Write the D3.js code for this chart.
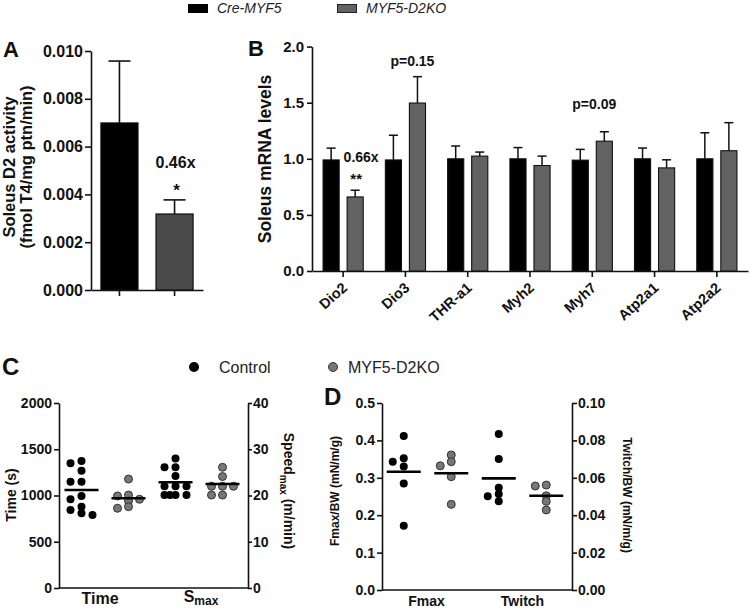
<!DOCTYPE html>
<html><head><meta charset="utf-8">
<script src="https://cdn.jsdelivr.net/npm/d3@7"></script>
<style>
body{margin:0;background:#fff;}
svg{display:block;font-family:"Liberation Sans",Arial,sans-serif;}
</style></head><body>
<svg id="chart" width="750" height="608"></svg>
<script>
// ---------- DATA ----------
const legendGroups = ["Cre-MYF5", "MYF5-D2KO"];

// Panel A
const activityMean = [0.00699, 0.00318];
const activitySem = [0.00259, 0.00059];
const activityTicks = [0, 0.002, 0.004, 0.006, 0.008, 0.010];

// Panel B
const genes = ["Dio2", "Dio3", "THR-a1", "Myh2", "Myh7", "Atp2a1", "Atp2a2"];
const creMean = [0.99, 0.99, 1.0, 1.0, 0.988, 1.0, 1.0];
const creSem = [0.105, 0.22, 0.114, 0.10, 0.096, 0.096, 0.232];
const koMean = [0.66, 1.497, 1.024, 0.94, 1.157, 0.919, 1.072];
const koSem = [0.06, 0.235, 0.036, 0.084, 0.084, 0.072, 0.25];
const mrnaTicks = [0, 0.5, 1.0, 1.5, 2.0];

// Panel C
const cGroups = ["Time", "Smax"];
const cLegend = ["Control", "MYF5-D2KO"];
const timeControl = [1348, 1373, 1268, 1149, 1149, 995, 959, 879, 843, 789, 807];
const timeKO = [1178, 1005, 995, 959, 941, 862, 879];
const smaxControl = [28.0, 26.1, 26.1, 24.2, 22.0, 22.0, 22.0, 20.1, 20.1, 20.1, 20.1];
const smaxKO = [26.1, 24.1, 22.0, 22.0, 22.0, 20.1, 20.1];
const timeMeans = [1059, 970];
const smaxMeans = [22.85, 22.5];
const timeTicks = [0, 500, 1000, 1500, 2000];
const speedTicks = [0, 10, 20, 30, 40];

// Panel D
const dGroups = ["Fmax", "Twitch"];
const fmaxControl = [0.412, 0.352, 0.343, 0.330, 0.285, 0.172];
const fmaxKO = [0.361, 0.343, 0.332, 0.303, 0.229];
const twitchControl = [0.0834, 0.0701, 0.0547, 0.0513, 0.0501, 0.0474];
const twitchKO = [0.0561, 0.0556, 0.0504, 0.0474, 0.0428];
const fmaxMeans = [0.316, 0.312];
const twitchMeans = [0.0597, 0.0504];
const fmaxTicks = [0, 0.1, 0.2, 0.3, 0.4, 0.5];
const twitchTicks = [0, 0.02, 0.04, 0.06, 0.08, 0.10];

// ---------- STYLE ----------
const INK = "#111";
const GREY_A = "#4a4a4a";
const GREY_B = "#626262";
const GREY_PT = "#777";

const svg = d3.select("#chart");

function styleAxis(g, size) {
  g.attr("font-family", null).attr("font-size", null);
  g.selectAll("text").attr("font-size", size).attr("font-weight", "bold").attr("fill", INK);
  g.selectAll("path,line").attr("stroke", INK).attr("stroke-width", 1.6);
}
function panelLetter(t, x, y, size) {
  svg.append("text").attr("x", x).attr("y", y).attr("font-size", size)
    .attr("font-weight", "bold").attr("fill", INK).text(t);
}
function rotLabel(t, x, y, angle, size) {
  return svg.append("text").attr("transform", `translate(${x},${y}) rotate(${angle})`)
    .attr("text-anchor", "middle").attr("font-size", size).attr("font-weight", "bold")
    .attr("fill", INK).text(t);
}

// ---------- TOP LEGEND ----------
svg.append("rect").attr("x", 188).attr("y", 4).attr("width", 20).attr("height", 9).attr("fill", "#000");
svg.append("text").attr("x", 217).attr("y", 13).attr("font-size", 14).attr("font-style", "italic")
  .attr("fill", "#222").text(legendGroups[0]);
svg.append("rect").attr("x", 337.5).attr("y", 4.5).attr("width", 19).attr("height", 8).attr("fill", GREY_B)
  .attr("stroke", "#222").attr("stroke-width", 1);
svg.append("text").attr("x", 366).attr("y", 13).attr("font-size", 14).attr("font-style", "italic")
  .attr("fill", "#222").text(legendGroups[1]);

// ---------- PANEL A ----------
{
  const y = d3.scaleLinear([0, 0.01], [290, 51]);
  const x = d3.scaleBand(legendGroups, [91, 203]).paddingInner(0.327).paddingOuter(0.18);
  const gy = svg.append("g").attr("transform", "translate(91,0)")
    .call(d3.axisLeft(y).tickValues(activityTicks).tickFormat(d3.format(".3f")).tickSize(6).tickSizeOuter(0).tickPadding(2));
  styleAxis(gy, 16);
  const gx = svg.append("g").attr("transform", "translate(0,290)")
    .call(d3.axisBottom(x).tickFormat("").tickSize(6).tickSizeOuter(0));
  styleAxis(gx, 16);
  const cols = ["#000", GREY_A];
  legendGroups.forEach((k, i) => {
    const cx = x(k) + x.bandwidth() / 2;
    svg.append("line").attr("x1", cx).attr("x2", cx).attr("y1", y(activityMean[i]))
      .attr("y2", y(activityMean[i] + activitySem[i])).attr("stroke", INK).attr("stroke-width", 1.6);
    svg.append("line").attr("x1", cx - 11).attr("x2", cx + 11)
      .attr("y1", y(activityMean[i] + activitySem[i])).attr("y2", y(activityMean[i] + activitySem[i]))
      .attr("stroke", INK).attr("stroke-width", 1.6);
    svg.append("rect").attr("x", x(k)).attr("width", x.bandwidth())
      .attr("y", y(activityMean[i])).attr("height", y(0) - y(activityMean[i]))
      .attr("fill", cols[i]).attr("stroke", INK).attr("stroke-width", 1.2);
  });
  const kx = x(legendGroups[1]) + x.bandwidth() / 2;
  svg.append("text").attr("x", kx + 1).attr("y", 168).attr("text-anchor", "middle")
    .attr("font-size", 16).attr("font-weight", "bold").attr("fill", INK).text("0.46x");
  svg.append("text").attr("x", kx + 2).attr("y", 196).attr("text-anchor", "middle")
    .attr("font-size", 17).attr("font-weight", "bold").attr("fill", INK).text("*");
  rotLabel("Soleus D2 activity", 15, 167, -90, 16.5);
  rotLabel("(fmol T4/mg ptn/min)", 32, 167, -90, 16.5);
  panelLetter("A", 3, 57, 22);
}

// ---------- PANEL B ----------
{
  const y = d3.scaleLinear([0, 2], [271, 46.6]);
  const x = d3.scaleBand(genes, [312, 748]);
  const xs = d3.scaleBand(["cre", "ko"], [0, x.bandwidth()]).paddingInner(0.33).paddingOuter(0.46);
  const gy = svg.append("g").attr("transform", "translate(312,0)")
    .call(d3.axisLeft(y).tickValues(mrnaTicks).tickFormat(d3.format(".1f")).tickSize(5).tickSizeOuter(0).tickPadding(3));
  styleAxis(gy, 15);
  const gx = svg.append("g").attr("transform", "translate(0,271)")
    .call(d3.axisBottom(x).tickFormat("").tickSize(6).tickSizeOuter(0));
  styleAxis(gx, 14);
  const series = [
    {k: "cre", mean: creMean, sem: creSem, fill: "#000"},
    {k: "ko", mean: koMean, sem: koSem, fill: GREY_B}
  ];
  genes.forEach((g, i) => {
    series.forEach(s => {
      const bx = x(g) + xs(s.k);
      const cx = bx + xs.bandwidth() / 2;
      const top = y(s.mean[i] + s.sem[i]);
      svg.append("line").attr("x1", cx).attr("x2", cx).attr("y1", y(s.mean[i])).attr("y2", top)
        .attr("stroke", INK).attr("stroke-width", 1.5);
      svg.append("line").attr("x1", cx - 4.5).attr("x2", cx + 4.5).attr("y1", top).attr("y2", top)
        .attr("stroke", INK).attr("stroke-width", 1.5);
      svg.append("rect").attr("x", bx).attr("width", xs.bandwidth())
        .attr("y", y(s.mean[i])).attr("height", y(0) - y(s.mean[i]))
        .attr("fill", s.fill).attr("stroke", INK).attr("stroke-width", 1.1);
    });
    const tx = x(g) + x.bandwidth() / 2;
    svg.append("text").attr("transform", `translate(${tx + 5},${289}) rotate(-42)`)
      .attr("text-anchor", "end").attr("font-size", 14.5).attr("font-weight", "bold")
      .attr("fill", INK).text(g);
  });
  const ann = (t, x0, y0, s) => svg.append("text").attr("x", x0).attr("y", y0).attr("text-anchor", "middle")
    .attr("font-size", s).attr("font-weight", "bold").attr("fill", INK).text(t);
  const cen = g => x(g) + x.bandwidth() / 2;
  ann("p=0.15", cen("Dio3") + 7, 65.5, 14);
  ann("p=0.09", cen("Myh7") + 2, 109, 14);
  ann("0.66x", cen("Dio2") + 18, 161.5, 14);
  ann("**", cen("Dio2") + 13, 184, 15);
  rotLabel("Soleus mRNA levels", 271, 159, -90, 17.5);
  panelLetter("B", 248, 56, 22);
}

// ---------- beeswarm helper ----------
function swarm(values, y, minDist, step) {
  const placed = [];
  const res = new Array(values.length);
  const order = values.map((v, i) => ({v, i})).sort((a, b) => b.v - a.v);
  const cands = [0, -2, 2, -1, 1, -3, 3, -4, 4, -5, 5, -6, 6];
  order.forEach(o => {
    const py = y(o.v);
    for (const c of cands) {
      const px = c * step;
      if (placed.every(p => Math.hypot(p.x - px, p.y - py) >= minDist)) {
        placed.push({x: px, y: py}); res[o.i] = {x: px, y: py}; break;
      }
    }
  });
  return res;
}
function drawGroup(values, mean, cx, y, isKO) {
  const pts = swarm(values, y, 5.5, 5.5);
  pts.forEach(p => {
    svg.append("circle").attr("cx", cx + p.x).attr("cy", p.y).attr("r", 4)
      .attr("fill", isKO ? GREY_PT : "#000").attr("stroke", isKO ? "#333" : "none").attr("stroke-width", 1);
  });
  svg.append("line").attr("x1", cx - 17).attr("x2", cx + 17).attr("y1", y(mean)).attr("y2", y(mean))
    .attr("stroke", "#000").attr("stroke-width", 2.6);
}

// ---------- PANEL C ----------
{
  const yL = d3.scaleLinear([0, 2000], [588, 403]);
  const yR = d3.scaleLinear([0, 40], [588, 403]);
  const xo = d3.scaleBand(cGroups, [58, 246]);
  const xi = d3.scaleBand(["c", "k"], [0, xo.bandwidth()]);
  const gl = svg.append("g").attr("transform", "translate(59,0)")
    .call(d3.axisLeft(yL).tickValues(timeTicks).tickFormat(d3.format("d")).tickSize(5).tickSizeOuter(0).tickPadding(2));
  styleAxis(gl, 14);
  const gr = svg.append("g").attr("transform", "translate(248,0)")
    .call(d3.axisRight(yR).tickValues(speedTicks).tickFormat(d3.format("d")).tickSize(4).tickSizeOuter(0).tickPadding(1));
  styleAxis(gr, 14);
  svg.append("line").attr("x1", 59).attr("x2", 248).attr("y1", 588).attr("y2", 588)
    .attr("stroke", INK).attr("stroke-width", 1.6);
  const ctr = (g, s) => xo(g) + xi(s) + xi.bandwidth() / 2;
  drawGroup(timeControl, timeMeans[0], ctr("Time", "c"), yL, false);
  drawGroup(timeKO, timeMeans[1], ctr("Time", "k"), yL, true);
  drawGroup(smaxControl, smaxMeans[0], ctr("Smax", "c"), yR, false);
  drawGroup(smaxKO, smaxMeans[1], ctr("Smax", "k"), yR, true);
  svg.append("text").attr("x", 100).attr("y", 604).attr("text-anchor", "middle")
    .attr("font-size", 16).attr("font-weight", "bold").attr("fill", INK).text("Time");
  const sm = svg.append("text").attr("x", 201).attr("y", 602).attr("text-anchor", "middle")
    .attr("font-size", 16).attr("font-weight", "bold").attr("fill", INK);
  sm.append("tspan").text("S");
  sm.append("tspan").attr("font-size", 12).attr("dy", 3).text("max");
  // axis labels
  rotLabel("Time (s)", 16, 495, -90, 14);
  const rl = svg.append("text").attr("transform", "translate(284,491) rotate(90)")
    .attr("text-anchor", "middle").attr("font-size", 14).attr("font-weight", "bold").attr("fill", INK);
  rl.append("tspan").text("Speed");
  rl.append("tspan").attr("font-size", 10).attr("dy", 4).text("max");
  rl.append("tspan").attr("dy", -4).text(" (m/min)");
  // legend
  svg.append("circle").attr("cx", 194).attr("cy", 367).attr("r", 5).attr("fill", "#000");
  svg.append("text").attr("x", 219).attr("y", 373).attr("font-size", 16).attr("fill", "#222").text(cLegend[0]);
  svg.append("circle").attr("cx", 333).attr("cy", 367).attr("r", 4.5).attr("fill", GREY_PT)
    .attr("stroke", "#333").attr("stroke-width", 1);
  svg.append("text").attr("x", 348).attr("y", 373).attr("font-size", 16).attr("fill", "#222").text(cLegend[1]);
  panelLetter("C", 2, 375, 24);
}

// ---------- PANEL D ----------
{
  const yL = d3.scaleLinear([0, 0.5], [590, 403]);
  const yR = d3.scaleLinear([0, 0.1], [590, 403]);
  const xo = d3.scaleBand(dGroups, [380, 570]);
  const xi = d3.scaleBand(["c", "k"], [0, xo.bandwidth()]);
  const gl = svg.append("g").attr("transform", "translate(382,0)")
    .call(d3.axisLeft(yL).tickValues(fmaxTicks).tickFormat(d3.format(".1f")).tickSize(5).tickSizeOuter(0).tickPadding(2));
  styleAxis(gl, 14);
  const gr = svg.append("g").attr("transform", "translate(572,0)")
    .call(d3.axisRight(yR).tickValues(twitchTicks).tickFormat(d3.format(".2f")).tickSize(5).tickSizeOuter(0).tickPadding(1));
  styleAxis(gr, 14);
  svg.append("line").attr("x1", 382).attr("x2", 572).attr("y1", 590).attr("y2", 590)
    .attr("stroke", INK).attr("stroke-width", 1.6);
  const ctr = (g, s) => xo(g) + xi(s) + xi.bandwidth() / 2;
  drawGroup(fmaxControl, fmaxMeans[0], ctr("Fmax", "c"), yL, false);
  drawGroup(fmaxKO, fmaxMeans[1], ctr("Fmax", "k"), yL, true);
  drawGroup(twitchControl, twitchMeans[0], ctr("Twitch", "c"), yR, false);
  drawGroup(twitchKO, twitchMeans[1], ctr("Twitch", "k"), yR, true);
  svg.append("text").attr("x", xo("Fmax") + xo.bandwidth() / 2 - 1).attr("y", 606).attr("text-anchor", "middle")
    .attr("font-size", 14).attr("font-weight", "bold").attr("fill", INK).text("Fmax");
  svg.append("text").attr("x", xo("Twitch") + xo.bandwidth() / 2).attr("y", 606).attr("text-anchor", "middle")
    .attr("font-size", 14).attr("font-weight", "bold").attr("fill", INK).text("Twitch");
  rotLabel("Fmax/BW (mN/m/g)", 339, 491, -90, 12);
  rotLabel("Twitch/BW (mN/m/g)", 623, 495, 90, 12);
  panelLetter("D", 324, 405, 24);
}
</script>
</body></html>
